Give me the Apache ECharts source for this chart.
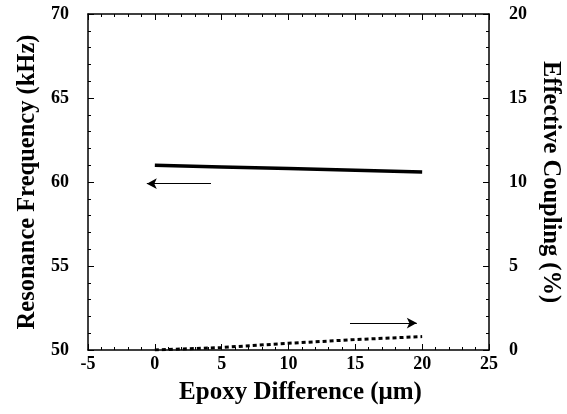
<!DOCTYPE html>
<html>
<head>
<meta charset="utf-8">
<script src="https://cdn.jsdelivr.net/npm/echarts@6/dist/echarts.min.js"></script>
<style>
  html, body { margin: 0; padding: 0; background: #fff; }
  #chart { width: 567px; height: 414px; }
</style>
</head>
<body>
<div id="chart"></div>
<script>
// data
const epoxy = [0, 5, 10, 15, 20];
const frequency = [61.0, 60.9, 60.8, 60.7, 60.6];   // kHz, left axis
const coupling = [0, 0.15, 0.4, 0.62, 0.8];          // %, right axis
const leftArrow = [[4.2, 59.9], [-0.6, 59.9]];       // points to left axis
const rightArrow = [[14.6, 1.6], [19.6, 1.6]];       // points to right axis

const font = 'Liberation Serif';
const black = '#000';

const tickStyle = { show: true, inside: true, length: 6, lineStyle: { color: black, width: 1 } };
const minorStyle = { show: true, splitNumber: 5, length: 3, lineStyle: { color: black, width: 1 } };
const labelStyle = { fontFamily: font, fontWeight: 'bold', fontSize: 18, color: black };
const nameStyle = { fontFamily: font, fontWeight: 'bold', fontSize: 25, color: black };
const lineStyle = { onZero: false, lineStyle: { color: black, width: 1.5 } };

let myChart = echarts.init(document.getElementById('chart'));

let option = {
  animation: false,
  grid: { left: 88, right: 78, top: 14, bottom: 64, containLabel: false, outerBoundsMode: 'none' },
  xAxis: [
    {
      type: 'value', min: -5, max: 25, interval: 5,
      name: 'Epoxy Difference (μm)', nameLocation: 'middle', nameGap: 30,
      nameTextStyle: Object.assign({}, nameStyle, { padding: [0, 0, 0, 24] }),  // title sits a bit right of centre
      axisLine: lineStyle,
      axisTick: tickStyle, minorTick: minorStyle,
      axisLabel: Object.assign({ margin: 5 }, labelStyle),
      splitLine: { show: false }
    },
    {
      type: 'value', min: -5, max: 25, interval: 5, position: 'top',
      axisLine: Object.assign({ show: true }, lineStyle),
      axisTick: tickStyle, minorTick: minorStyle,
      axisLabel: { show: false },
      splitLine: { show: false }
    }
  ],
  yAxis: [
    {
      type: 'value', min: 50, max: 70, interval: 5, position: 'left',
      name: 'Resonance Frequency (kHz)', nameLocation: 'middle', nameGap: 47, nameRotate: 90,
      nameTextStyle: Object.assign({}, nameStyle, { fontSize: 24.5 }),
      axisLine: Object.assign({ show: true }, lineStyle),
      axisTick: tickStyle, minorTick: minorStyle,
      axisLabel: Object.assign({ margin: 19 }, labelStyle),
      splitLine: { show: false }
    },
    {
      type: 'value', min: 0, max: 20, interval: 5, position: 'right',
      name: 'Effective Coupling (%)', nameLocation: 'middle', nameGap: 40, nameRotate: -90,
      nameTextStyle: Object.assign({}, nameStyle, { fontSize: 24.5 }),
      axisLine: Object.assign({ show: true }, lineStyle),
      axisTick: tickStyle, minorTick: minorStyle,
      axisLabel: Object.assign({ margin: 20 }, labelStyle),
      splitLine: { show: false }
    }
  ],
  series: [
    {
      name: 'frequency', type: 'line', yAxisIndex: 0,
      data: epoxy.map((x, i) => [x, frequency[i]]),
      showSymbol: false, lineStyle: { color: black, width: 3.5 },
      markLine: {
        silent: true, symbol: ['none', 'arrow'], symbolSize: [8, 10],
        label: { show: false },
        lineStyle: { color: black, width: 1, type: 'solid' },
        data: [[{ coord: leftArrow[0] }, { coord: leftArrow[1] }]]
      }
    },
    {
      name: 'coupling', type: 'line', yAxisIndex: 1,
      data: epoxy.map((x, i) => [x, coupling[i]]),
      showSymbol: false, lineStyle: { color: black, width: 3, type: [4, 3] },
      markLine: {
        silent: true, symbol: ['none', 'arrow'], symbolSize: [8, 10],
        label: { show: false },
        lineStyle: { color: black, width: 1, type: 'solid' },
        data: [[{ coord: rightArrow[0] }, { coord: rightArrow[1] }]]
      }
    }
  ]
};

option && myChart.setOption(option);
</script>
</body>
</html>
